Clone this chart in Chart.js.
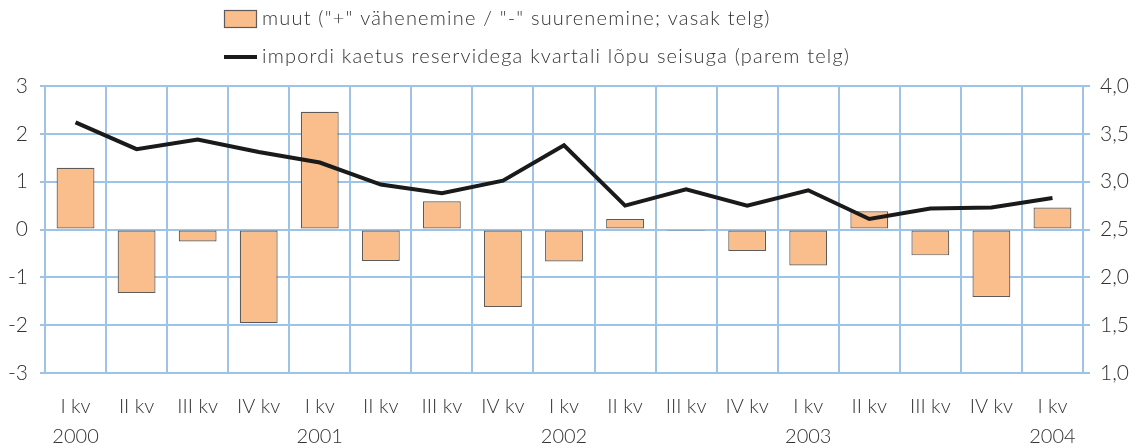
<!DOCTYPE html>
<html>
<head>
<meta charset="utf-8">
<script src="https://cdn.jsdelivr.net/npm/chart.js@4/dist/chart.umd.min.js"></script>
<style>
  html, body { margin: 0; padding: 0; background: #fff; }
  #wrap { width: 1136px; height: 448px; position: relative; }
</style>
</head>
<body>
<div id="wrap"><canvas id="c" width="1136" height="448"></canvas></div>
<script>
const quarters = ["I kv","II kv","III kv","IV kv","I kv","II kv","III kv","IV kv","I kv","II kv","III kv","IV kv","I kv","II kv","III kv","IV kv","I kv"];
const years = ["2000","","","","2001","","","","2002","","","","2003","","","","2004"];
const muutValues = [1.29, -1.33, -0.25, -1.96, 2.46, -0.66, 0.59, -1.62, -0.67, 0.22, -0.03, -0.45, -0.75, 0.38, -0.54, -1.41, 0.46];
const kaetusValues = [3.62, 3.34, 3.44, 3.31, 3.20, 2.97, 2.88, 3.01, 3.38, 2.75, 2.92, 2.75, 2.91, 2.61, 2.72, 2.73, 2.83];
const legendLabels = ['muut ("+" vähenemine / "-" suurenemine; vasak telg)', 'impordi kaetus reservidega kvartali lõpu seisuga (parem telg)'];

const labels = quarters.map((q, i) => [q, years[i]]);
const FONT = "Lato, 'Open Sans', sans-serif";
const TXT = '#333333';
const GRID = '#9DC3E6';
const BAR_FILL = '#F9BE8B';
const BAR_EDGE = '#5f5a57';

const legendPlugin = {
  id: 'customLegend',
  afterDraw(chart) {
    const ctx = chart.ctx;
    ctx.save();
    ctx.fillStyle = BAR_FILL;
    ctx.fillRect(224, 10, 33, 18);
    ctx.strokeStyle = BAR_EDGE;
    ctx.lineWidth = 1.2;
    ctx.strokeRect(224.5, 10.5, 32, 17);
    ctx.strokeStyle = '#1a1a1a';
    ctx.lineWidth = 4;
    ctx.beginPath();
    ctx.moveTo(224, 57);
    ctx.lineTo(257, 57);
    ctx.stroke();
    ctx.fillStyle = TXT;
    ctx.font = "300 20px " + FONT;
    if ('letterSpacing' in ctx) ctx.letterSpacing = '1.2px';
    ctx.textBaseline = 'middle';
    ctx.textAlign = 'left';
    ctx.fillText(legendLabels[0], 262, 19);
    ctx.fillText(legendLabels[1], 262, 57);
    ctx.restore();
  }
};

new Chart(document.getElementById('c'), {
  data: {
    labels: labels,
    datasets: [
      {
        type: 'line',
        label: legendLabels[1],
        data: kaetusValues,
        yAxisID: 'y1',
        borderColor: '#1a1a1a',
        borderWidth: 4,
        pointRadius: 0,
        tension: 0,
        fill: false,
        order: 1
      },
      {
        type: 'bar',
        label: legendLabels[0],
        data: muutValues,
        yAxisID: 'y',
        backgroundColor: BAR_FILL,
        borderColor: BAR_EDGE,
        borderWidth: 1.2,
        borderSkipped: false,
        barPercentage: 0.62,
        categoryPercentage: 1,
        order: 2
      }
    ]
  },
  options: {
    responsive: false,
    animation: false,
    layout: { padding: { top: 86, left: 0, right: 0, bottom: 0 } },
    plugins: { legend: { display: false }, tooltip: { enabled: false } },
    scales: {
      x: {
        offset: true,
        grid: { offset: true, color: GRID, lineWidth: 2, drawTicks: false },
        border: { display: false },
        ticks: {
          color: TXT,
          font: { family: FONT, size: 20, weight: 300, lineHeight: 1.5 },
          padding: 19,
          maxRotation: 0,
          autoSkip: false
        },
        afterFit(scale) { scale.height = 75; }
      },
      y: {
        position: 'left',
        min: -3, max: 3,
        ticks: {
          stepSize: 1,
          color: TXT,
          font: { family: FONT, size: 21, weight: 300 },
          padding: 12
        },
        grid: { color: GRID, lineWidth: 2, tickLength: 5 },
        border: { color: GRID, width: 2 },
        afterFit(scale) { scale.width = 45; }
      },
      y1: {
        position: 'right',
        min: 1, max: 4,
        ticks: {
          stepSize: 0.5,
          color: TXT,
          font: { family: FONT, size: 21, weight: 300 },
          padding: 10,
          callback: (v) => v.toFixed(1).replace('.', ',')
        },
        grid: { drawOnChartArea: false, color: GRID, lineWidth: 2, tickLength: 7 },
        border: { color: GRID, width: 2 },
        afterFit(scale) { scale.width = 53; }
      }
    }
  },
  plugins: [legendPlugin]
});
</script>
</body>
</html>
